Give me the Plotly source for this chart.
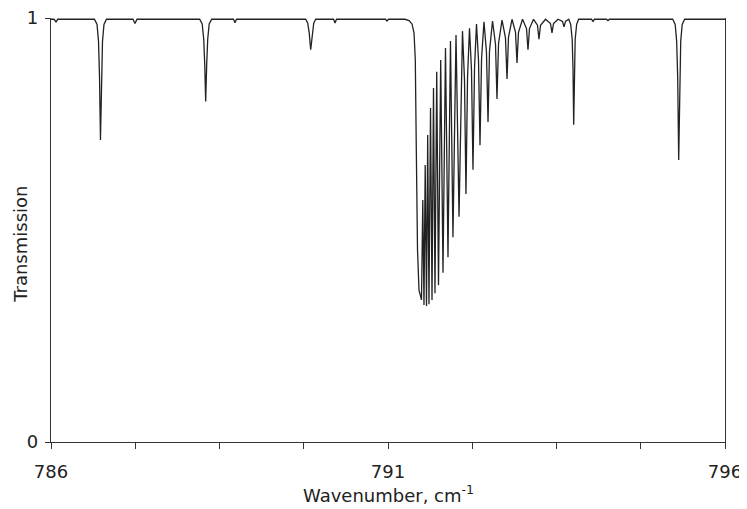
import plotly.graph_objects as go

# Spectrum trace (wavenumber in cm-1, transmission 0..1)
wavenumber = [
    786.000, 786.045, 786.074, 786.100,
    # line near 786.73
    786.645, 786.683, 786.705, 786.720, 786.734, 786.749, 786.764, 786.786, 786.823,
    787.216, 787.246, 787.276,
    # line near 788.30
    788.206, 788.243, 788.266, 788.281, 788.295, 788.310, 788.325, 788.347, 788.384,
    788.708, 788.730, 788.752,
    # line near 789.85
    789.779, 789.809, 789.831, 789.853, 789.875, 789.898, 789.927,
    790.192, 790.214, 790.236,
    790.963, 790.985, 791.007,
    # Q-branch
    791.252, 791.312, 791.356, 791.386, 791.405, 791.420, 791.438, 791.460,
    791.497, 791.516, 791.534, 791.552, 791.571, 791.589, 791.608, 791.631,
    791.653, 791.675, 791.697, 791.723, 791.749, 791.782, 791.816, 791.853,
    791.890, 791.927, 791.964, 792.009, 792.054, 792.105,
    792.135, 792.157, 792.180, 792.209,
    792.239, 792.261, 792.284, 792.313,
    792.343, 792.365, 792.388, 792.424,
    792.461, 792.484, 792.506, 792.551,
    792.595, 792.617, 792.640, 792.692,
    792.743, 792.766, 792.788, 792.840,
    792.892, 792.914, 792.936, 792.996,
    793.055, 793.077, 793.099, 793.159,
    793.218, 793.240, 793.263, 793.337,
    793.411, 793.433, 793.456, 793.522,
    793.589, 793.611, 793.634,
    # line near 793.76
    793.681, 793.711, 793.733, 793.745, 793.755, 793.765, 793.777, 793.799, 793.829,
    794.020, 794.042, 794.064,
    794.242, 794.264, 794.286,
    # line near 795.31
    795.224, 795.261, 795.283, 795.298, 795.313, 795.328, 795.343, 795.365, 795.402,
    796.000,
]

transmission = [
    0.997, 0.997, 0.991, 0.997,
    0.997, 0.985, 0.945, 0.860, 0.712, 0.860, 0.945, 0.985, 0.997,
    0.997, 0.987, 0.997,
    0.997, 0.986, 0.950, 0.890, 0.803, 0.890, 0.950, 0.986, 0.997,
    0.997, 0.989, 0.997,
    0.997, 0.988, 0.965, 0.925, 0.965, 0.988, 0.997,
    0.997, 0.988, 0.997,
    0.997, 0.993, 0.997,
    0.997, 0.994, 0.986, 0.965, 0.901, 0.689, 0.453, 0.358,
    0.335, 0.571, 0.323, 0.653, 0.321, 0.724, 0.325, 0.788,
    0.335, 0.835, 0.351, 0.873, 0.370, 0.901, 0.399, 0.929,
    0.436, 0.946, 0.483, 0.960, 0.531, 0.969,
    0.854, 0.585, 0.859, 0.976,
    0.876, 0.642, 0.883, 0.986,
    0.900, 0.700, 0.904, 0.991,
    0.920, 0.755, 0.922, 0.993,
    0.938, 0.809, 0.940, 0.995,
    0.953, 0.856, 0.955, 0.997,
    0.966, 0.894, 0.966, 0.997,
    0.975, 0.925, 0.975, 0.997,
    0.983, 0.950, 0.983, 0.997,
    0.987, 0.965, 0.987, 0.997,
    0.992, 0.979, 0.992,
    0.997, 0.985, 0.950, 0.880, 0.748, 0.880, 0.950, 0.985, 0.997,
    0.997, 0.992, 0.997,
    0.997, 0.994, 0.997,
    0.997, 0.985, 0.945, 0.860, 0.665, 0.860, 0.945, 0.985, 0.997,
    0.997,
]

x_major_ticks = [786, 791, 796]
x_major_labels = ["786", "791", "796"]
x_minor_ticks = [787.25, 788.5, 789.75, 792.25, 793.5, 794.75]
y_tick_values = [0, 1]
y_tick_labels = ["0", "1"]

FONT = "DejaVu Sans"
INK = "#222222"

fig = go.Figure()
fig.add_trace(go.Scatter(
    x=wavenumber, y=transmission, mode="lines",
    line=dict(color=INK, width=1.3), hoverinfo="skip", showlegend=False,
))

# The page body has an 8px default margin, so the figure is sized/margined to
# put the plot area at the reference position inside the 747x509 window.
fig.update_layout(
    width=739, height=501,
    margin=dict(l=43, r=22, t=10, b=67, autoexpand=False),
    paper_bgcolor="white", plot_bgcolor="white",
    font=dict(family=FONT, size=18, color=INK),
    xaxis=dict(
        range=[786, 796], tickmode="array",
        tickvals=x_major_ticks, ticktext=x_major_labels,
        ticks="outside", ticklen=6, tickwidth=1.2, tickcolor="#333333",
        ticklabelstandoff=7, ticklabeloverflow="allow",
        minor=dict(tickmode="array", tickvals=x_minor_ticks, ticks="outside",
                   ticklen=6, tickwidth=1.2, tickcolor="#333333", showgrid=False),
        showline=True, linecolor="#333333", linewidth=1.2,
        showgrid=False, zeroline=False, automargin=False,
        tickfont=dict(family=FONT, size=18, color=INK),
    ),
    yaxis=dict(
        range=[0, 1], tickmode="array",
        tickvals=y_tick_values, ticktext=y_tick_labels,
        ticks="outside", ticklen=5, tickwidth=1.2, tickcolor="#333333",
        ticklabelstandoff=3, ticklabeloverflow="allow",
        showline=True, linecolor="#333333", linewidth=1.2, mirror=True,
        showgrid=False, zeroline=False, automargin=False,
        tickfont=dict(family=FONT, size=18, color=INK),
    ),
    annotations=[
        dict(text="Wavenumber, cm<sup>-1</sup>", xref="paper", yref="paper",
             x=0.5, y=-0.123, xanchor="center", yanchor="middle",
             showarrow=False, font=dict(family=FONT, size=18, color=INK)),
        dict(text="Transmission", xref="paper", yref="paper",
             x=-0.0445, y=0.465, xanchor="center", yanchor="middle",
             textangle=-90, showarrow=False,
             font=dict(family=FONT, size=18, color=INK)),
    ],
)

fig.write_html("out.html")
